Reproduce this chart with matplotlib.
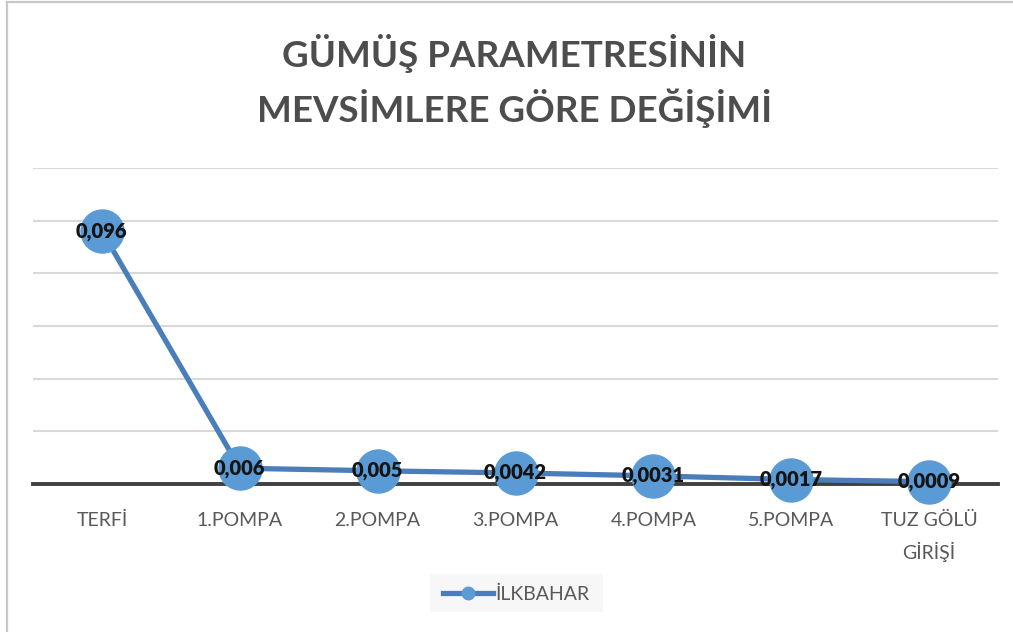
import matplotlib.pyplot as plt
from matplotlib.lines import Line2D
from matplotlib.patches import Rectangle

# veriler
kategoriler = ["TERFİ", "1.POMPA", "2.POMPA", "3.POMPA", "4.POMPA", "5.POMPA", "TUZ GÖLÜ\nGİRİŞİ"]
ilkbahar = [0.096, 0.006, 0.005, 0.0042, 0.0031, 0.0017, 0.0009]
etiketler = ["0,096", "0,006", "0,005", "0,0042", "0,0031", "0,0017", "0,0009"]

plt.rcParams["font.family"] = ["Lato", "DejaVu Sans"]

cizgi_renk = "#4a7ebb"
nokta_renk = "#5b9bd5"

fig = plt.figure(figsize=(10.13, 6.32), dpi=100)
ax = fig.add_axes([33 / 1013, 1 - 484 / 632, 965 / 1013, 316 / 632])

x = list(range(len(kategoriler)))
ax.plot(x, ilkbahar, color=cizgi_renk, linewidth=3.8, marker="o",
        markersize=31, markerfacecolor=nokta_renk, markeredgecolor=nokta_renk,
        zorder=3, clip_on=False)

for xi, yi, et in zip(x, ilkbahar, etiketler):
    ax.text(xi, yi, et, ha="center", va="center", fontsize=14.5,
            fontweight="heavy", color="#141414", zorder=4)

ax.set_xlim(-0.5, len(kategoriler) - 0.5)
ax.set_ylim(0, 0.12)
ax.set_yticks([0.02, 0.04, 0.06, 0.08, 0.10, 0.12])
ax.yaxis.grid(True, color="#d9d9d9", linewidth=1.5)
ax.set_axisbelow(True)
ax.tick_params(axis="y", left=False, labelleft=False)
ax.tick_params(axis="x", length=0, pad=20, labelsize=14, labelcolor="#595959")
ax.set_xticks(x)
ax.set_xticklabels(kategoriler, linespacing=1.75)
for s in ["top", "right", "left"]:
    ax.spines[s].set_visible(False)
ax.spines["bottom"].set_color("#404040")
ax.spines["bottom"].set_linewidth(2.8)
ax.spines["bottom"].set_zorder(2)

fig.text(0.508, 1 - 81 / 632, "GÜMÜŞ PARAMETRESİNİN\nMEVSİMLERE GÖRE DEĞİŞİMİ",
         ha="center", va="center", fontsize=26.5, fontweight="bold",
         color="#4d4d4d", linespacing=1.45)

# legend
fig.patches.append(Rectangle((430 / 1013, 1 - 612 / 632), 173 / 1013, 38 / 632,
                             transform=fig.transFigure, facecolor="#f7f7f7",
                             edgecolor="none", zorder=0))
h = Line2D([], [], color=cizgi_renk, linewidth=3.8, marker="o", markersize=9,
           markerfacecolor=nokta_renk, markeredgecolor=nokta_renk)
fig.legend([h], ["İLKBAHAR"], loc="center", bbox_to_anchor=(516 / 1013, 1 - 594 / 632),
           frameon=False, fontsize=14, labelcolor="#595959", handlelength=2.6,
           handletextpad=0.1)

# cerceve
fig.add_artist(Line2D([7 / 1013, 7 / 1013], [0, 1 - 2 / 632], transform=fig.transFigure,
                      color="#c8c8c8", linewidth=1.6))
fig.add_artist(Line2D([7 / 1013, 1], [1 - 2 / 632, 1 - 2 / 632], transform=fig.transFigure,
                      color="#c8c8c8", linewidth=1.6))

fig.savefig("out.png", dpi=100)
